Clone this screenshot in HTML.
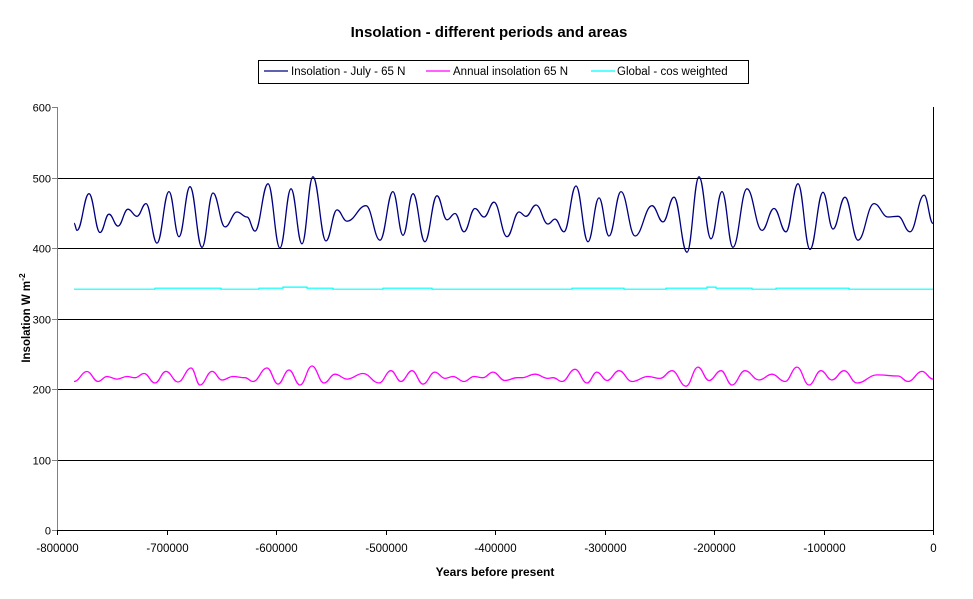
<!DOCTYPE html>
<html><head><meta charset="utf-8"><style>
html,body{margin:0;padding:0;background:#fff;}
svg{display:block;font-family:"Liberation Sans",Arial,sans-serif;}
</style></head><body>
<svg id="chart" width="973" height="599" viewBox="0 0 973 599">
<text x="489" y="37" text-anchor="middle" font-size="15" font-weight="bold">Insolation - different periods and areas</text>
<g>
<rect x="258.5" y="60.5" width="490" height="23" fill="#fff" stroke="#000"/>
<line x1="264" y1="71" x2="288" y2="71" stroke="#000080" stroke-width="1.2"/>
<text x="291" y="75" font-size="11.5">Insolation - July - 65 N</text>
<line x1="426" y1="71" x2="450" y2="71" stroke="#ff00ff" stroke-width="1.2"/>
<text x="453" y="75" font-size="11.5">Annual insolation 65 N</text>
<line x1="591" y1="71" x2="615" y2="71" stroke="#00ffff" stroke-width="1.2"/>
<text x="617" y="75" font-size="11.5">Global - cos weighted</text>
</g>
<g id="grid"></g>
<g id="axes"></g>
<g id="series"></g>
<text x="495" y="576" text-anchor="middle" font-size="12" font-weight="bold">Years before present</text>
<text transform="translate(30,318) rotate(-90)" text-anchor="middle" font-size="11.5" font-weight="bold">Insolation W  m<tspan dy="-5" font-size="8.5">-2</tspan></text>
</svg>
<script>
const yTicks=[0,100,200,300,400,500,600];
const xTicks=[-800000,-700000,-600000,-500000,-400000,-300000,-200000,-100000,0];
const julyYears=[-784.5,-781.7,-770.8,-760.7,-752.5,-744.3,-735.2,-727.0,-718.7,-708.7,-697.7,-688.6,-678.5,-667.6,-657.5,-646.6,-635.6,-626.5,-619.2,-607.3,-596.4,-586.3,-576.3,-566.3,-554.3,-544.3,-535.2,-517.8,-505.0,-493.2,-484.0,-474.9,-464.0,-453.0,-443.8,-436.5,-428.3,-418.3,-410.0,-400.9,-389.0,-378.1,-371.7,-362.6,-351.6,-345.2,-337.0,-326.0,-315.1,-305.0,-295.9,-284.9,-272.1,-256.6,-246.6,-236.5,-224.7,-213.7,-202.7,-192.7,-182.7,-169.9,-156.2,-145.2,-134.3,-123.3,-112.3,-100.5,-91.3,-80.4,-68.5,-53.9,-41.1,-32.0,-21.0,-8.1,0];
const julyValues=[435,425,477,422,448,431,455,445,463,407,480,416,487,401,478,430,451,444,424,491,400,484,406,501,410,454,438,460,411,480,418,477,409,474,440,449,423,456,444,465,416,451,445,461,434,441,423,488,409,471,417,480,417,460,437,472,394,501,413,480,401,484,425,456,423,491,398,479,427,472,411,463,444,445,423,475,435];
const annualYears=[-784.5,-772.6,-762.6,-754.3,-745.2,-736.1,-728.8,-720.5,-710.5,-700.5,-689.5,-677.5,-669.4,-658.4,-649.3,-639.3,-628.3,-621.0,-608.2,-598.2,-588.1,-578.1,-567.1,-556.2,-546.1,-535.2,-520.5,-505.9,-495.0,-485.9,-475.8,-465.8,-454.8,-445.7,-438.4,-428.3,-419.2,-411.0,-401.8,-390.9,-379.9,-375.3,-363.5,-351.6,-347.0,-338.8,-326.9,-316.0,-306.9,-297.7,-286.8,-274.9,-260.3,-249.3,-238.4,-225.6,-214.6,-204.6,-193.6,-183.6,-171.7,-158.9,-147.0,-135.2,-124.2,-113.2,-102.3,-92.3,-81.3,-69.4,-51.1,-32.0,-22.8,-10.0,0];
const annualValues=[210.6,224.8,210.6,217.7,214,217.7,216,222,208.5,225,210,229.8,205.7,225,212.8,217.7,216,210.6,229.8,207,227,205.7,232.6,208.5,221,214,222,208.5,226,210.6,226,207,224,215,217.7,210.6,217.7,216,224,212,216,216,221,215,216,210.6,228,208.5,224,212,226,210.6,217.7,215,226,204,231,212,226,205.7,226,212.8,221,210.6,231,205.7,226,212.8,226,208.5,220,218.5,210.6,225,214];
const globalStarts=[-784.5,-710.5,-650.2,-615.5,-593.6,-571.7,-547.9,-502.3,-457.5,-329.7,-282.2,-243.8,-206.4,-198.2,-165.3,-143.4,-76.7];
const globalValues=[341.5,343,341.5,343,344.5,343,341.5,343,341.5,343,341.5,343,344.5,343,341.5,343,341.5];
const globalEnd=0;

const X0=57,X1=933,Y0=530,Y1=107;
const sx=y=>X0+(y-(-800000))/800000*(X1-X0);
const sy=v=>Y0-v/600*(Y0-Y1);
const NS="http://www.w3.org/2000/svg";
function mk(tag,attrs,parent){const e=document.createElementNS(NS,tag);for(const k in attrs)e.setAttribute(k,attrs[k]);parent.appendChild(e);return e;}
const grid=document.getElementById('grid'),axes=document.getElementById('axes'),series=document.getElementById('series');
yTicks.forEach(v=>{
  const y=Math.round(sy(v))+0.5;
  if(v>0&&v<600){const l=mk('line',{x1:X0,x2:X1,y1:y,y2:y,stroke:'#000','stroke-width':1},grid);
  
  }
  const t=mk('line',{x1:X0-5,x2:X0,y1:y,y2:y,stroke:'#808080'},axes);
  
  
  const tx=mk('text',{x:X0-6,y:y+4,'text-anchor':'end','font-size':11},axes);tx.textContent=v;
  
  
});
const la=mk('line',{x1:X0+0.5,x2:X0+0.5,y1:Y1,y2:Y0,stroke:'#808080'},axes);


const ra=mk('line',{x1:X1+0.5,x2:X1+0.5,y1:Y1,y2:Y0,stroke:'#000'},axes);


const ba=mk('line',{x1:X0,x2:X1+1,y1:Y0+0.5,y2:Y0+0.5,stroke:'#000'},axes);


xTicks.forEach(v=>{
  const x=Math.round(sx(v))+0.5;
  const t=mk('line',{x1:x,x2:x,y1:Y0,y2:Y0+5,stroke:'#000'},axes);
  
  
  const tx=mk('text',{x:x,y:Y0+22,'text-anchor':'middle','font-size':11.5},axes);tx.textContent=v;
  
  
});
function smooth(ys,vs){
  let d='';
  for(let i=0;i<ys.length;i++){
    const x=sx(ys[i]*1000),y=sy(vs[i]);
    if(i===0)d+='M'+x.toFixed(1)+','+y.toFixed(1);
    else{const px=sx(ys[i-1]*1000),py=sy(vs[i-1]);const dx=(x-px)/2.4;
      d+=' C'+(px+dx).toFixed(1)+','+py.toFixed(1)+' '+(x-dx).toFixed(1)+','+y.toFixed(1)+' '+x.toFixed(1)+','+y.toFixed(1);}
  }
  return d;
}
let gd='';
globalStarts.forEach((s,i)=>{
  const e=i<globalStarts.length-1?globalStarts[i+1]:globalEnd;
  const y=sy(globalValues[i]).toFixed(1);
  gd+=(i===0?'M':' L')+sx(s*1000).toFixed(1)+','+y+' L'+sx(e*1000).toFixed(1)+','+y;
});
const g=mk('path',{d:gd,fill:'none',stroke:'#00ffff','stroke-width':1.2},series);


const a=mk('path',{d:smooth(annualYears,annualValues),fill:'none',stroke:'#ff00ff','stroke-width':1.3},series);


const j=mk('path',{d:smooth(julyYears,julyValues),fill:'none',stroke:'#000080','stroke-width':1.3},series);


</script>
</body></html>
